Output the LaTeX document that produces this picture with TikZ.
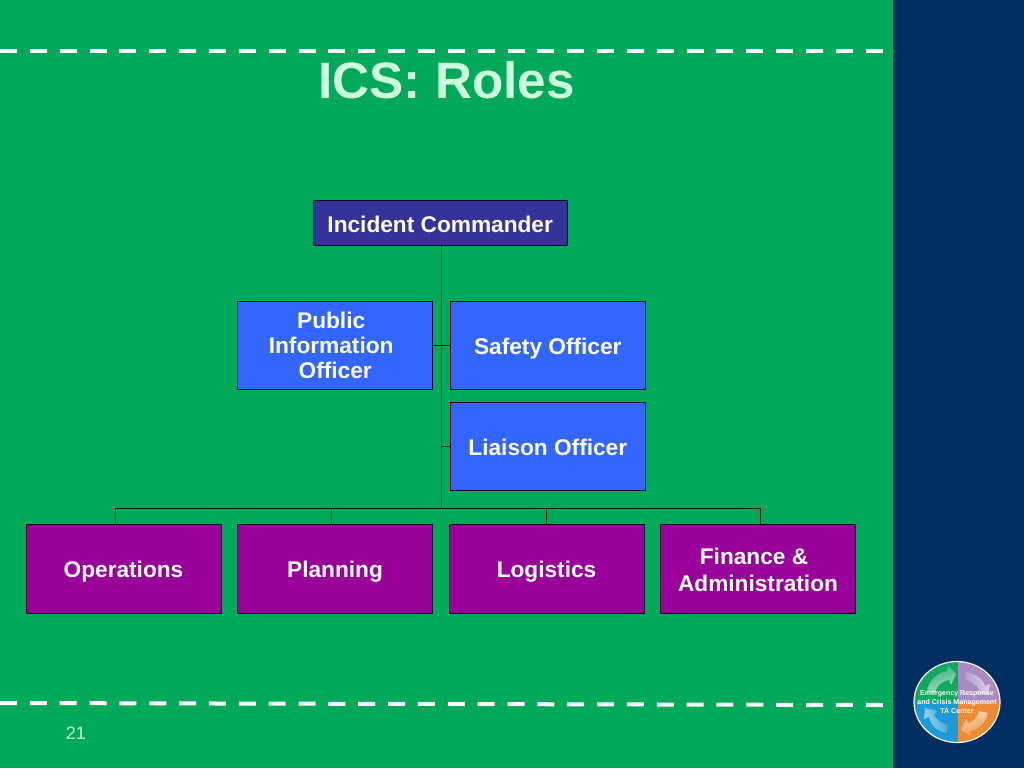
\documentclass[tikz,border=0pt]{standalone}
\usepackage{fontspec}
\setmainfont{Liberation Sans}
\usetikzlibrary{calc}
\definecolor{bggreen}{HTML}{00A859}
\definecolor{panelnavy}{HTML}{002D62}
\definecolor{titlegreen}{HTML}{CCFFDD}
\definecolor{cmdblue}{HTML}{333399}
\definecolor{staffblue}{HTML}{3366FF}
\definecolor{secpurple}{HTML}{990099}
\definecolor{logogreen}{HTML}{12A860}
\definecolor{logopurple}{HTML}{A98BC4}
\definecolor{logoorange}{HTML}{EE8A33}
\definecolor{logoblue}{HTML}{1E9BD7}
\tikzset{
  x=0.75pt,y=-0.75pt,
  orgbox/.style={draw=black!85!blue,line width=0.7pt,text=white,font=\bfseries\fontsize{17}{18.8}\selectfont,align=center,inner sep=0pt,minimum width=146.25pt,minimum height=66.4pt},
  oneline/.style={text height=13.6pt,text depth=0pt},
  staffbox/.style={orgbox,fill=staffblue,minimum height=66pt},
  secbox/.style={orgbox,fill=secpurple},
  cmdbox/.style={orgbox,fill=cmdblue,minimum width=190.2pt,minimum height=34pt},
  link/.style={draw=black!85!green,line width=0.7pt},
  dashline/.style={draw=white,line width=3pt,dash pattern=on 12.75pt off 9.64pt},
}
\begin{document}
\begin{tikzpicture}
\useasboundingbox (0,0) rectangle (1024,768);
\fill[bggreen] (0,0) rectangle (893,768);
\fill[panelnavy] (893,0) rectangle (1024,768);
% dashed rules
\coordinate (topL) at (0,51); \coordinate (topR) at (884,51);
\coordinate (botL) at (0,703); \coordinate (botR) at (884,705);
\draw[dashline] (topL) -- (topR);
\draw[dashline] (botL) -- (botR);
% title and page number
\node[text=titlegreen,font=\bfseries\fontsize{38.4}{40}\selectfont,inner sep=0pt] (title) at (446.5,80.5) {ICS: Roles};
\node[text=titlegreen,font=\fontsize{13.5}{16}\selectfont,inner sep=0pt] (page) at (76,733) {21};
% boxes
\node[cmdbox,oneline] (ic) at (440.2,223) {Incident Commander};
\node[staffbox] (pio) at (334.5,345.5) {Public\kern5pt\\Information\kern5pt\\\kern1pt Officer};
\node[staffbox,oneline] (safety) at (547.8,345.5) {Safety Officer};
\node[staffbox,oneline] (liaison) at (547.8,446.5) {Liaison Officer};
\node[secbox,oneline] (ops) at (123.5,568.8) {Operations};
\node[secbox,oneline] (plan) at (335,568.8) {Planning};
\node[secbox,oneline] (log) at (546.5,568.8) {Logistics};
\node[secbox,font=\bfseries\fontsize{17}{20.3}\selectfont] (fin) at (758,568.8) {\rule{0pt}{14pt}Finance \&\kern6pt\\Administration};
% connectors
\coordinate (busTop) at (441,508);
\coordinate (busA) at (115,508);
\coordinate (busB) at (331.5,508);
\coordinate (busC) at (546,508);
\coordinate (busD) at (760,508);
\draw[link] (ic.south -| busTop) -- (busTop);
\draw[link] (pio.east) -- (safety.west);
\draw[link] (busTop |- liaison.west) -- (liaison.west);
\draw[link] (ops.north -| busA) -- (busA) -- (busD) -- (fin.north -| busD);
\draw[link] (busB) -- (plan.north -| busB);
\draw[link] (busC) -- (log.north -| busC);
% logo
\begin{scope}
\clip (957,702) ellipse (43 and 40.5);
\fill[logogreen] (914,661) rectangle (957.5,702);
\fill[logopurple] (957.5,661) rectangle (1001,702);
\fill[logoorange] (957.5,702) rectangle (1001,743);
\fill[logoblue] (914,702) rectangle (957.5,743);
\shade[left color=logogreen!85!white,right color=logogreen!35!white,shading angle=20]
  (927,691) .. controls (928,682) and (936,673) .. (947,671) -- (948,666) -- (956,674) -- (951,685) -- (949,680) .. controls (942,681) and (936,686) .. (935,693) -- cycle;
\shade[left color=logopurple!90!white,right color=logopurple!35!white,shading angle=110]
  (966,672) .. controls (975,673) and (983,679) .. (985,686) -- (990,684) -- (988,695) -- (976,693) -- (979,689) .. controls (975,684) and (970,681) .. (965,680) -- cycle;
\shade[left color=logoorange!90!white,right color=logoorange!35!white,shading angle=200]
  (988,713) .. controls (986,723) and (978,730) .. (970,731) -- (971,736) -- (961,730) -- (966,719) -- (968,723) .. controls (973,722) and (978,717) .. (979,711) -- cycle;
\shade[left color=logoblue!90!white,right color=logoblue!40!white,shading angle=290]
  (946,733) .. controls (937,731) and (931,725) .. (929,717) -- (924,719) -- (925,708) -- (937,711) -- (934,715) .. controls (937,720) and (942,724) .. (948,725) -- cycle;
\end{scope}
\draw[white,line width=0.9pt] (957,702) ellipse (43 and 40.5);
\node[text=white,font=\bfseries\fontsize{5.3}{6.6}\selectfont,align=center,inner sep=0pt] (logotext) at (957,702) {Emergency Response\\and Crisis Management\\TA Center};
\end{tikzpicture}
\end{document}
